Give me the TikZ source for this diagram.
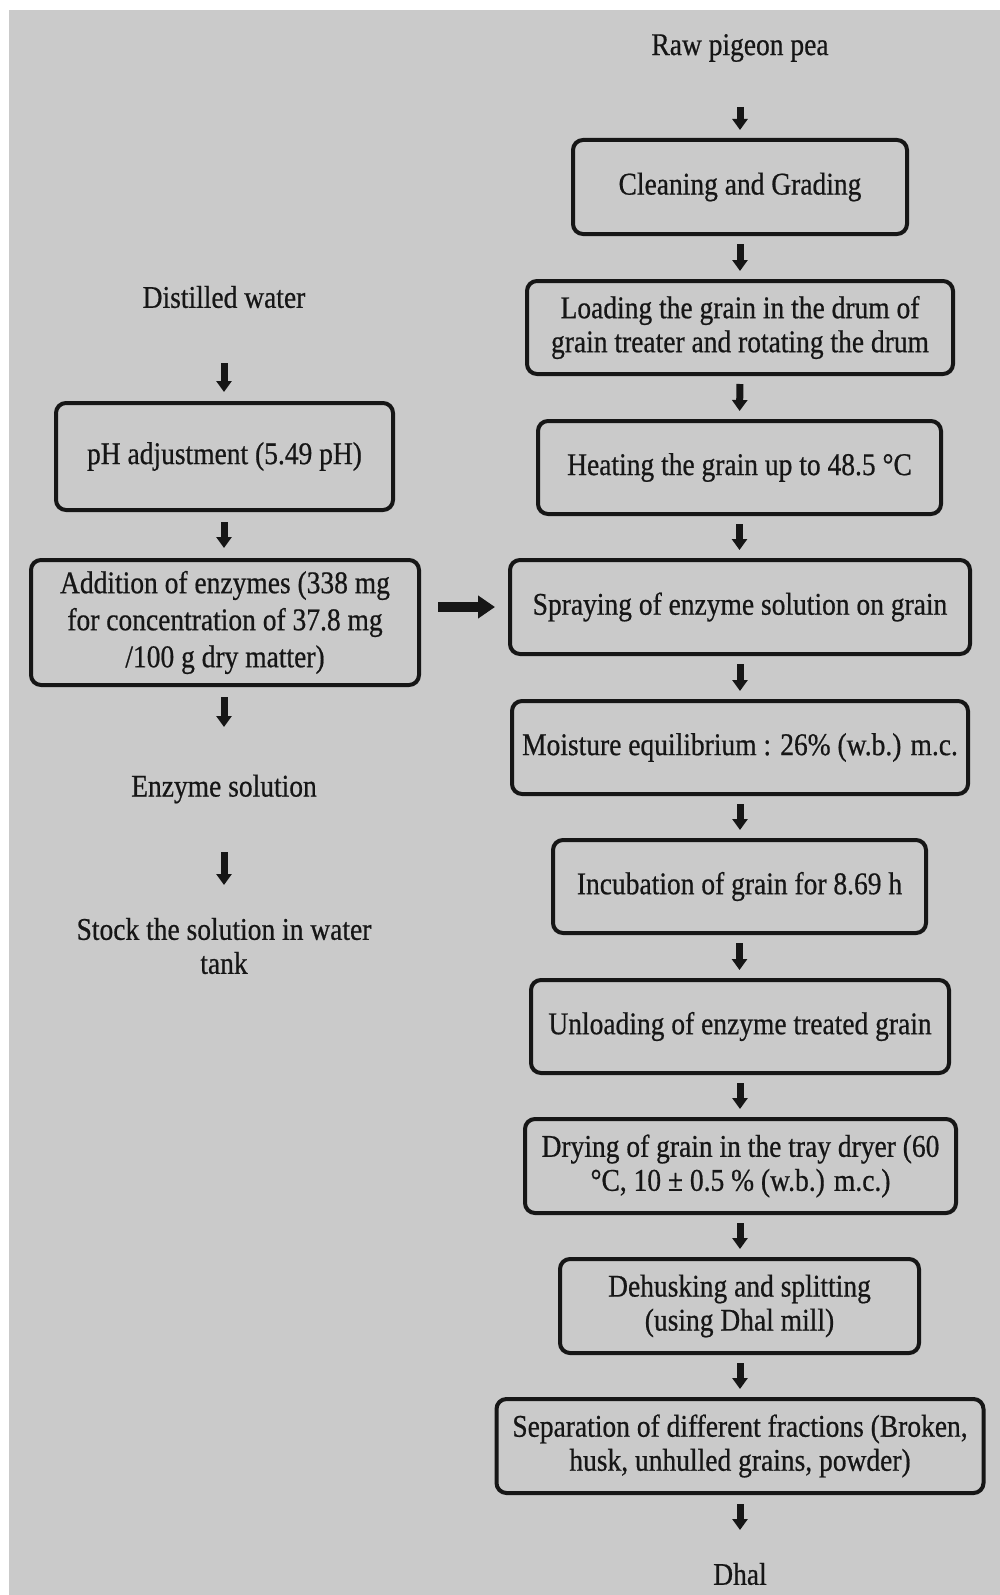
\documentclass[tikz,border=0pt]{standalone}
\usepackage{fontspec}
\setmainfont[FakeStretch=0.87,FakeBold=0.6]{Liberation Serif}
\usetikzlibrary{arrows.meta}
\definecolor{bg}{RGB}{202,202,202}
\definecolor{ink}{RGB}{22,22,22}
\begin{document}
\begin{tikzpicture}[x=0.5pt,y=-0.5pt,
  every node/.style={font=\fontsize{15.8pt}{17pt}\selectfont, text=ink},
  box/.style={draw=ink, line width=2pt, rounded corners=5pt, align=center, inner sep=0pt, fill=bg},
  lbl/.style={align=center, inner sep=0pt},
  varr/.style={line width=3.5pt, draw=ink, -{Triangle[width=7.5pt,length=5.5pt]}},
  harr/.style={line width=5pt, draw=ink, -{Triangle[width=11pt,length=8.5pt]}}]
\useasboundingbox (0,0) rectangle (1000,1595);
\fill[bg] (9,10) rectangle (1000,1595);
% right column
\node[lbl] (raw) at (740,48) {Raw pigeon pea};
\node[box, minimum width=167pt, minimum height=47pt] (clean) at (740,187) {Cleaning and Grading};
\node[box, minimum width=213pt, minimum height=46.5pt] (load) at (740,327.5) {Loading the grain in the drum of\\grain treater and rotating the drum};
\node[box, minimum width=201.5pt, minimum height=46.5pt] (heat) at (739.5,467.5) {Heating the grain up to 48.5 °C};
\node[box, minimum width=230pt, minimum height=47pt] (spray) at (740,607) {Spraying of enzyme solution on grain};
\node[box, minimum width=228pt, minimum height=46.5pt] (moist) at (740,747.5) {Moisture equilibrium : 26\% (w.b.) m.c.};
\node[box, minimum width=186.5pt, minimum height=46.5pt] (incub) at (739.5,886.5) {Incubation of grain for 8.69 h};
\node[box, minimum width=209pt, minimum height=46.5pt] (unload) at (740,1026.5) {Unloading of enzyme treated grain};
\node[box, minimum width=215.5pt, minimum height=47pt] (dry) at (740.5,1166) {Drying of grain in the tray dryer (60\\°C, 10 ± 0.5 \% (w.b.) m.c.)};
\node[box, minimum width=179.5pt, minimum height=47pt] (dehusk) at (739.5,1306) {Dehusking and splitting\\(using Dhal mill)};
\node[box, minimum width=243.5pt, minimum height=47pt] (sep) at (740,1446) {Separation of different fractions (Broken,\\husk, unhulled grains, powder)};
\node[lbl] (dhal) at (740,1574) {Dhal};
% left column
\node[lbl] (dist) at (224,297) {Distilled water};
\node[box, minimum width=168.5pt, minimum height=53.5pt] (ph) at (224.5,456.5) {pH adjustment (5.49 pH)};
\node[box, minimum width=194pt, minimum height=62.5pt, font=\fontsize{15.8pt}{18.5pt}\selectfont] (add) at (225,622.5) {Addition of enzymes (338 mg\\for concentration of 37.8 mg\\/100 g dry matter)};
\node[lbl] (enz) at (224,789) {Enzyme solution};
\node[lbl] (stock) at (224,946) {Stock the solution in water\\tank};
% arrows right
\draw[varr, shorten <=29.5pt, shorten >=4pt] (raw.center) -- (clean.north);
\draw[varr, shorten <=4pt, shorten >=4pt] (clean.south) -- (load.north);
\draw[varr, shorten <=4pt, shorten >=4pt] (load.south) -- (heat.north);
\draw[varr, shorten <=4pt, shorten >=4pt] (heat.south) -- (heat.south |- spray.north);
\draw[varr, shorten <=4pt, shorten >=4pt] (spray.south) -- (moist.north);
\draw[varr, shorten <=4pt, shorten >=4pt] (moist.south) -- (moist.south |- incub.north);
\draw[varr, shorten <=4pt, shorten >=4pt] (incub.south) -- (incub.south |- unload.north);
\draw[varr, shorten <=4pt, shorten >=4pt] (unload.south) -- (dry.north -| unload.south);
\draw[varr, shorten <=4pt, shorten >=4pt] (dry.south -| spray.south) -- (dehusk.north -| spray.south);
\draw[varr, shorten <=4pt, shorten >=4pt] (dehusk.south -| sep.north) -- (sep.north);
\draw[varr, shorten <=4.5pt, shorten >=22pt] (sep.south) -- (dhal.center);
% arrows left
\draw[varr, shorten <=33pt, shorten >=4.5pt] (dist.center) -- (dist.center |- ph.north);
\draw[varr, shorten <=5pt, shorten >=5pt] (ph.south -| dist.center) -- (add.north -| dist.center);
\draw[varr, shorten <=5pt, shorten >=31pt] (add.south -| enz.center) -- (enz.center);
\draw[varr, shorten <=31.5pt, shorten >=30.5pt] (enz.center) -- (stock.center);
% horizontal arrow
\draw[harr, shorten <=8.5pt, shorten >=6.5pt] (add.east |- spray.west) -- (spray.west);
\end{tikzpicture}
\end{document}
